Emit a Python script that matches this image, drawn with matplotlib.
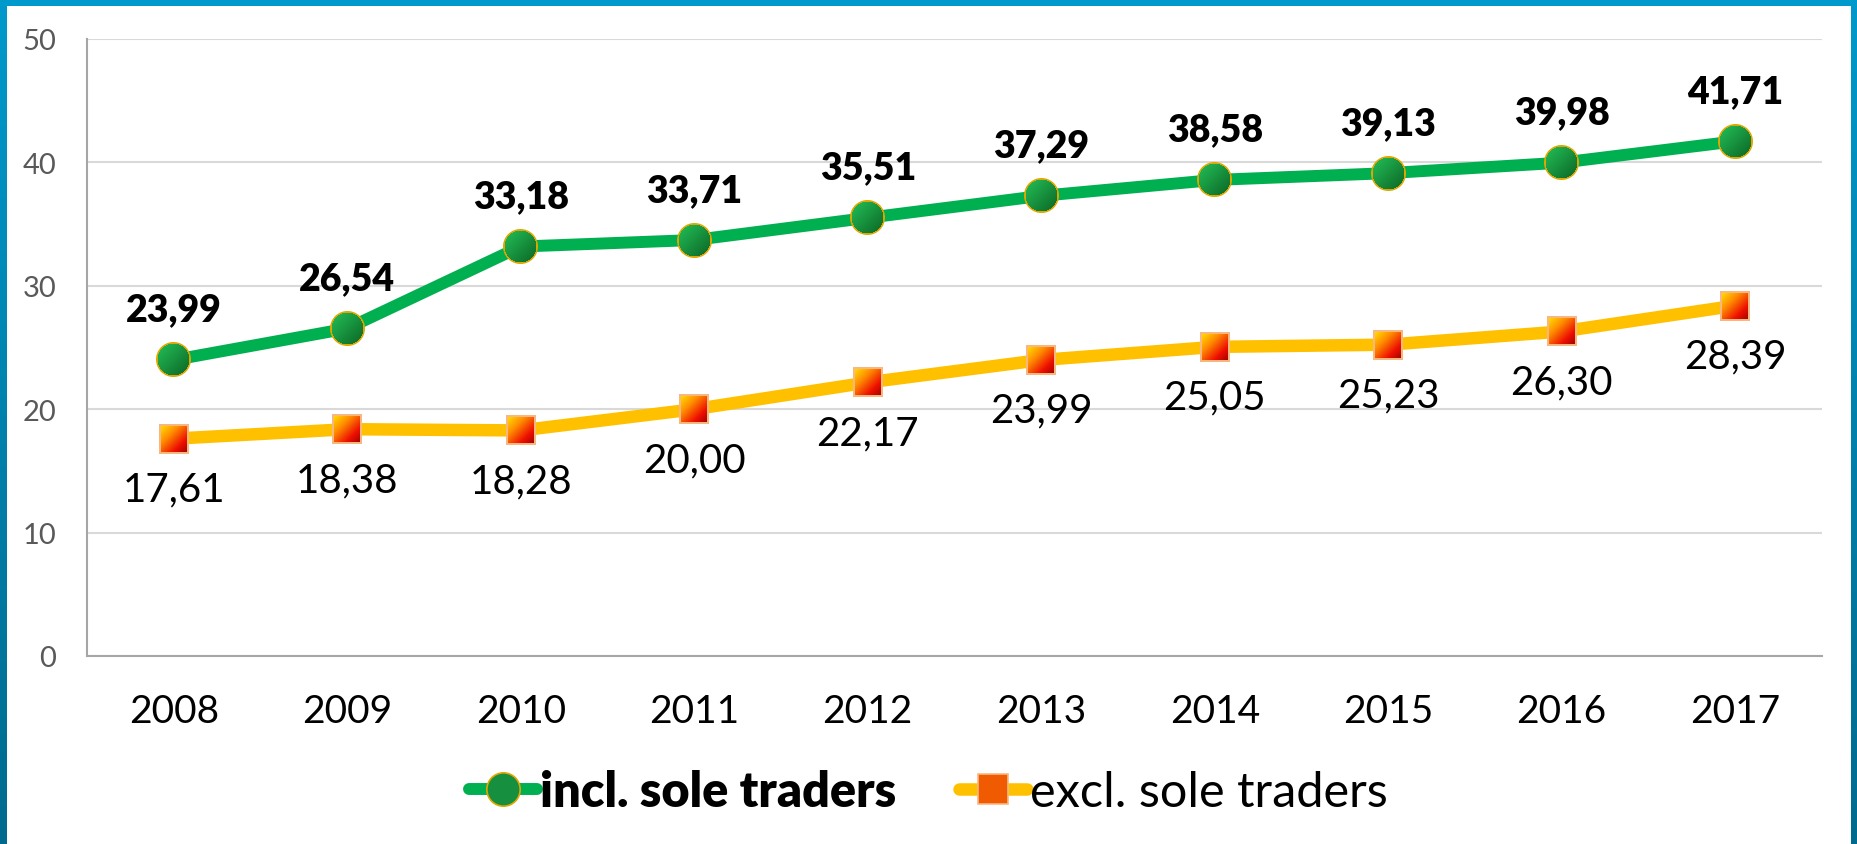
import numpy as np
import matplotlib
matplotlib.use("Agg")
import matplotlib.pyplot as plt
from matplotlib.offsetbox import OffsetImage, AnnotationBbox
from matplotlib.lines import Line2D

years = ["2008", "2009", "2010", "2011", "2012", "2013", "2014", "2015", "2016", "2017"]
incl_sole = [23.99, 26.54, 33.18, 33.71, 35.51, 37.29, 38.58, 39.13, 39.98, 41.71]
excl_sole = [17.61, 18.38, 18.28, 20.00, 22.17, 23.99, 25.05, 25.23, 26.30, 28.39]
yticks = [0, 10, 20, 30, 40, 50]
series_names = ["incl. sole traders", "excl. sole traders"]

plt.rcParams['font.family'] = ['Lato', 'DejaVu Sans']

W, H, DPI = 1857, 845, 100
fig = plt.figure(figsize=(W / DPI, H / DPI), dpi=DPI)
fig.patch.set_facecolor("white")

ax = fig.add_axes([87 / W, 1 - 657 / H, (1822 - 87) / W, (657 - 40) / H])
x = np.arange(len(years))

GREEN = "#00b050"
ORANGE = "#ffc000"

ax.plot(x, incl_sole, color=GREEN, lw=8.6, solid_capstyle="round", zorder=3)
ax.plot(x, excl_sole, color=ORANGE, lw=9, solid_capstyle="round", zorder=3)

ax.set_xlim(-0.5, len(years) - 0.5)
ax.set_ylim(0, 50)
ax.set_yticks(yticks)
ax.set_yticklabels([str(v) for v in yticks], fontsize=21, color="#595959")
ax.set_xticks(x)
ax.set_xticklabels(years, fontsize=28, color="black")
ax.tick_params(axis="both", length=0)
ax.tick_params(axis="y", pad=22)
ax.tick_params(axis="x", pad=27)
ax.grid(axis="y", color="#d9d9d9", lw=1.5)
ax.set_axisbelow(True)
for s in ["top", "right"]:
    ax.spines[s].set_visible(False)
for s in ["left", "bottom"]:
    ax.spines[s].set_color("#a6a6a6")
    ax.spines[s].set_linewidth(1.5)


def grad_img(size, c1, c2, shape, edge, ew):
    n = size
    yy, xx = np.mgrid[0:n, 0:n] + 0.5
    t = ((xx + yy) / (2 * n))[..., None]
    t = np.clip((t - 0.2) / 0.7, 0, 1)
    c1 = np.array(matplotlib.colors.to_rgb(c1))
    c2 = np.array(matplotlib.colors.to_rgb(c2))
    rgb = c1 * (1 - t) + c2 * t
    alpha = np.ones((n, n))
    e = np.array(matplotlib.colors.to_rgb(edge))
    if shape == "circle":
        r = np.hypot(xx - n / 2, yy - n / 2)
        alpha = np.clip(n / 2 - r + 0.5, 0, 1)
        ring = (r > n / 2 - ew)
        rgb[ring] = e
    else:
        ring = (xx < ew) | (yy < ew) | (xx > n - ew) | (yy > n - ew)
        rgb[ring] = e
    return np.dstack([rgb, alpha])


circ = grad_img(35, "#1fb04f", "#0d6b28", "circle", "#e0a800", 1.6)
sq = grad_img(30, "#ffe000", "#b00000", "square", "#f8b880", 1.6)
n = 30
yy, xx = np.mgrid[0:n, 0:n] + 0.5
t = (xx + yy) / (2 * n)
stops = [(0.0, "#ffee00"), (0.35, "#ff9000"), (0.7, "#ee1000"), (1.0, "#900000")]
pos = [s[0] for s in stops]
cols = np.array([matplotlib.colors.to_rgb(s[1]) for s in stops])
for k in range(3):
    sq[..., k] = np.interp(t, pos, cols[:, k])
ring = (xx < 1.6) | (yy < 1.6) | (xx > n - 1.6) | (yy > n - 1.6)
sq[ring, :3] = matplotlib.colors.to_rgb("#f8b880")

for xi, v in zip(x, incl_sole):
    ab = AnnotationBbox(OffsetImage(circ, zoom=1, dpi_cor=False), (xi, v), frameon=False, pad=0, zorder=5)
    ax.add_artist(ab)
    ax.annotate(f"{v:.2f}".replace(".", ","), (xi, v), xytext=(0, 24), textcoords="offset points",
                ha="center", va="bottom", fontsize=27, fontweight=800, color="black")
for xi, v in zip(x, excl_sole):
    ab = AnnotationBbox(OffsetImage(sq, zoom=1, dpi_cor=False), (xi, v), frameon=False, pad=0, zorder=5)
    ax.add_artist(ab)
    ax.annotate(f"{v:.2f}".replace(".", ","), (xi, v), xytext=(0, -23), textcoords="offset points",
                ha="center", va="top", fontsize=29, color="black")

handles = [
    Line2D([], [], color=GREEN, lw=8.6, marker="o", markersize=24, markerfacecolor="#168f3f",
           markeredgecolor="#e0a800", markeredgewidth=1.2, solid_capstyle="round"),
    Line2D([], [], color=ORANGE, lw=9, marker="s", markersize=21, markerfacecolor="#f05a00",
           markeredgecolor="#f8b880", markeredgewidth=1.2, solid_capstyle="round"),
]
leg = fig.legend(handles, series_names, loc="center", bbox_to_anchor=(0.5, 1 - 793 / H),
                 ncol=2, frameon=False, fontsize=35, handlelength=1.4, handletextpad=0.05,
                 columnspacing=1.3)
leg.get_texts()[0].set_fontweight(800)

# blue border
bx = fig.add_axes([0, 0, 1, 1], zorder=-1)
bx.axis("off")
grad = np.linspace(0, 1, 200)[:, None]
c_top = np.array(matplotlib.colors.to_rgb("#0099cc"))
c_bot = np.array(matplotlib.colors.to_rgb("#006a8e"))
img = c_top * (1 - grad[..., None]) + c_bot * grad[..., None]
img = np.repeat(img, 2, axis=1)
bx.imshow(img, extent=(0, 7, H, 0), aspect="auto")
bx.imshow(img, extent=(1851, W, H, 0), aspect="auto")
bx.add_patch(plt.Rectangle((0, 0), W, 7, color="#0099cc", lw=0))
bx.set_xlim(0, W)
bx.set_ylim(H, 0)

fig.savefig("out.png", dpi=DPI)
